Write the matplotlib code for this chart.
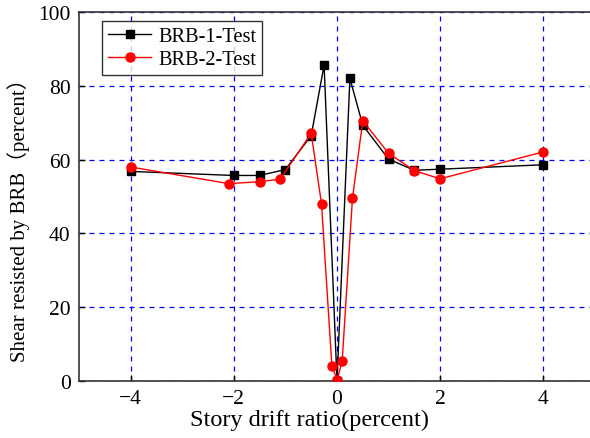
import matplotlib
matplotlib.use("Agg")
import matplotlib.pyplot as plt

x1 = [-4, -2, -1.5, -1, -0.5, -0.25, 0, 0.25, 0.5, 1, 1.5, 2, 4]
y1 = [56.8, 55.7, 55.7, 57.3, 66.5, 85.6, 0, 82.0, 69.3, 60.1, 57.1, 57.4, 58.6]
x2 = [-4, -2.1, -1.5, -1.1, -0.5, -0.3, -0.1, 0, 0.1, 0.3, 0.5, 1, 1.5, 2, 4]
y2 = [58.0, 53.5, 54.0, 54.7, 67.1, 48.0, 4.2, 0.3, 5.3, 49.6, 70.5, 61.7, 57.0, 54.8, 62.1]
labels = ["BRB-1-Test", "BRB-2-Test"]
xticks = [-4, -2, 0, 2, 4]
yticks = [0, 20, 40, 60, 80, 100]

plt.rcParams['font.family'] = ['Liberation Serif', 'Noto Sans CJK SC']

fig = plt.figure(figsize=(5.9, 4.39), dpi=100)
ax = fig.add_axes([79/590, 57/439, 516/590, 369/439])

ax.plot(x1, y1, color='black', marker='s', markersize=5.5, lw=1, label=labels[0], zorder=3)
ax.plot(x2, y2, color='red', marker='o', markersize=6.5, lw=1, label=labels[1], zorder=4)

ax.set_xlim(-5, 5)
ax.set_ylim(0, 100)
ax.set_xticks(xticks)
ax.set_yticks(yticks)
ax.set_xticklabels([("\u2212" + str(abs(t))) if t < 0 else str(t) for t in xticks])
ax.grid(True, color='blue', linestyle=(0, (4, 4)), linewidth=0.9)
ax.set_axisbelow(True)
ax.tick_params(direction='in', labelsize=15.5, length=4, width=1, pad=6)
for s in ax.spines.values():
    s.set_linewidth(1.2)
    s.set_color('#333333')

ax.set_xlabel("Story drift ratio(percent)", fontsize=17.5)
ax.xaxis.set_label_coords((310 - 79) / 516, -0.075)
ax.set_ylabel("Shear resisted by BRB（percent）", fontsize=15)
ax.yaxis.set_label_coords(-0.095, (382 - 215) / 369)

leg = ax.legend(loc='upper left', bbox_to_anchor=(23/516, 1 - 9/369), fontsize=14.7, frameon=True,
                fancybox=False, edgecolor='black', handlelength=2.1, borderpad=0.3,
                labelspacing=0.15, handletextpad=0.35, borderaxespad=0)
leg.get_frame().set_linewidth(1.0)

fig.savefig("out.png", dpi=100)
